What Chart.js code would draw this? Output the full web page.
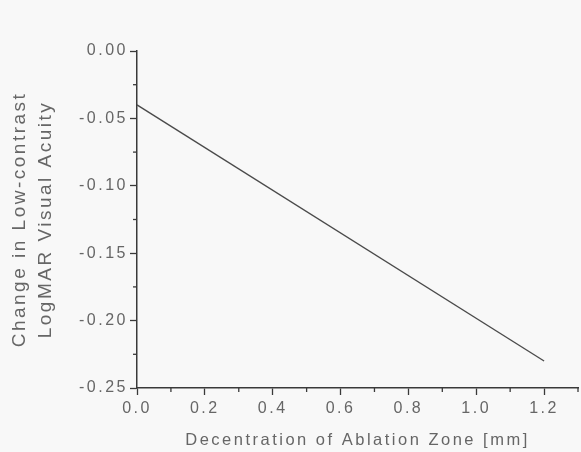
<!DOCTYPE html>
<html>
<head>
<meta charset="utf-8">
<script src="https://cdn.jsdelivr.net/npm/chart.js@4"></script>
<style>
  body { margin: 0; background: #f8f8f8; }
  canvas { display: block; }
</style>
</head>
<body>
<canvas id="fitChart" width="581" height="452"></canvas>
<script>
// fitted line
var decentration = [0.0, 1.2];
var lowContrastChange = [-0.040, -0.230];

var xTitle = "Decentration of Ablation Zone [mm]";
var yTitle = ["Change in Low-contrast", "LogMAR Visual Acuity"];

var textGray = '#666666';
var axisGray = '#3a3a3a';

// wide lettering like the scanned figure
var spacingPlugin = {
  id: 'spacing',
  beforeInit: function (chart) { chart.ctx.letterSpacing = '2.5px'; },
  beforeDraw: function (chart) { chart.ctx.letterSpacing = '2.5px'; }
};

// short minor ticks halfway between the labelled ones
var minorTicks = {
  id: 'minorTicks',
  afterDraw: function (chart) {
    var ctx = chart.ctx;
    ctx.save();
    ctx.strokeStyle = axisGray;
    ctx.lineWidth = 1.3;
    ['x', 'y'].forEach(function (id) {
      var s = chart.scales[id];
      var t = s.ticks;
      var step = t[1].value - t[0].value;
      for (var i = 0; i < t.length; i++) {
        var v = t[i].value + step / 2;
        if (v > s.max + 1e-9 || v < s.min - 1e-9) continue;
        var p = s.getPixelForValue(v);
        ctx.beginPath();
        if (id === 'x') {
          ctx.moveTo(p, s.top); ctx.lineTo(p, s.top + 4);
        } else {
          ctx.moveTo(s.right, p); ctx.lineTo(s.right - 4, p);
        }
        ctx.stroke();
      }
    });
    ctx.restore();
  }
};

var ctxF = document.getElementById('fitChart').getContext('2d');
var fitChart = new Chart(ctxF, {
  type: 'scatter',
  data: {
    datasets: [{
      label: 'fit',
      data: decentration.map(function (x, i) { return {x: x, y: lowContrastChange[i]}; }),
      showLine: true,
      borderColor: '#4a4a4a',
      borderWidth: 1.3,
      pointRadius: 0,
      fill: false
    }]
  },
  options: {
    responsive: false,
    devicePixelRatio: 1,
    animation: false,
    layout: { padding: { top: 51, right: 3, left: 0, bottom: 0 } },
    plugins: { legend: { display: false }, tooltip: { enabled: false } },
    scales: {
      x: {
        type: 'linear',
        min: 0,
        max: 1.3,
        afterFit: function (s) { s.height = 64; },
        border: { display: true, color: axisGray, width: 1.5 },
        grid: { display: true, drawOnChartArea: false, drawTicks: true, tickLength: 7, tickColor: axisGray, tickWidth: 1.3 },
        ticks: {
          stepSize: 0.2,
          includeBounds: false,
          maxRotation: 0,
          padding: 4,
          color: textGray,
          font: { family: 'Liberation Sans, Arial', size: 16 },
          callback: function (v) { return v.toFixed(1); }
        },
        title: {
          display: true,
          text: xTitle,
          color: textGray,
          font: { family: 'Liberation Sans, Arial', size: 16.5, lineHeight: 1.2 },
          padding: { top: 0, bottom: 2 }
        }
      },
      y: {
        type: 'linear',
        min: -0.25,
        max: 0,
        afterFit: function (s) { s.width = 137; },
        border: { display: true, color: axisGray, width: 1.5 },
        grid: { display: true, drawOnChartArea: false, drawTicks: true, tickLength: 7, tickColor: axisGray, tickWidth: 1.3 },
        ticks: {
          stepSize: 0.05,
          includeBounds: false,
          padding: 2,
          color: textGray,
          font: { family: 'Liberation Sans, Arial', size: 16 },
          callback: function (v) { return v.toFixed(2); }
        },
        title: {
          display: true,
          text: yTitle,
          color: textGray,
          font: { family: 'Liberation Sans, Arial', size: 19, lineHeight: 1.37 },
          padding: { top: 7, bottom: 0 }
        }
      }
    }
  },
  plugins: [spacingPlugin, minorTicks]
});
</script>
</body>
</html>
